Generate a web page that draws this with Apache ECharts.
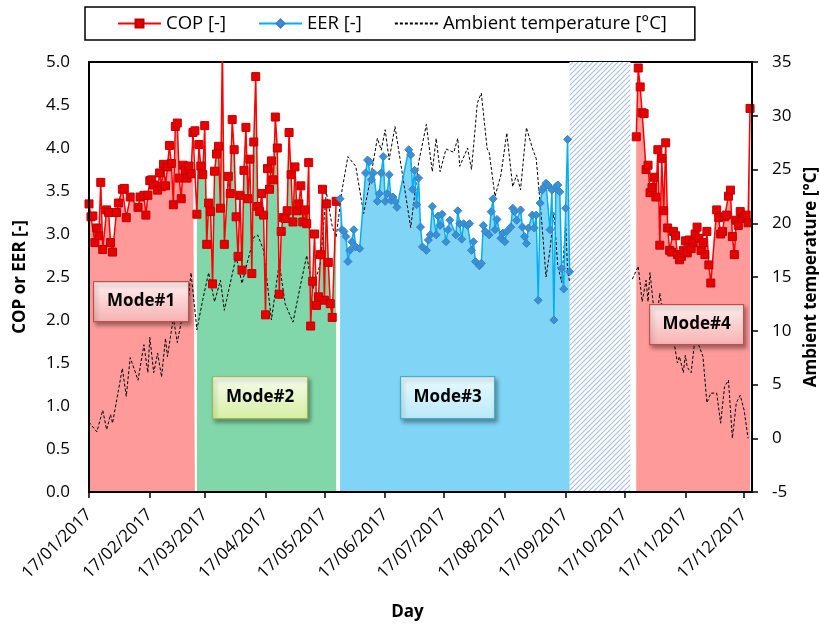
<!DOCTYPE html>
<html>
<head>
<meta charset="utf-8">
<script src="https://cdn.jsdelivr.net/npm/echarts@6/dist/echarts.min.js"></script>
<style>
html, body { margin: 0; padding: 0; background: #fff; }
#chart { width: 819px; height: 625px; }
</style>
</head>
<body>
<div id="chart"></div>
<script>
// x values below are day numbers: day 0 = 17/01/2017, day 338 = 21/12/2017
const startDay = Date.UTC(2017, 0, 17);
const dayCount = 339;
const days = [];
for (let i = 0; i < dayCount; i++) {
    const d = new Date(startDay + i * 86400000);
    days.push(String(d.getUTCDate()).padStart(2, '0') + '/' + String(d.getUTCMonth() + 1).padStart(2, '0') + '/' + d.getUTCFullYear());
}

const legendNames = ['COP [-]', 'EER [-]', 'Ambient temperature [°C]'];
const modeNames = ['Mode#1', 'Mode#2', 'Mode#3', 'Mode#4'];
const hatchFrom = '19/09/2017';
const hatchTo = '20/10/2017';

// heating, mode 1
const copMode1 = [
    [0, 3.35], [1, 3.20], [2, 3.21], [3, 2.90], [4, 3.07], [5, 2.98], [6, 3.60], [7, 2.82], [9, 3.28], [10, 3.25],
    [11, 2.90], [12, 2.79], [14, 3.25], [15, 3.36], [17, 3.52], [18, 3.53], [19, 3.19], [21, 3.43], [25, 3.31], [26, 3.43],
    [28, 3.45], [29, 3.22], [30, 3.45], [31, 3.62], [32, 3.63], [33, 3.57], [35, 3.51], [36, 3.71], [37, 3.55], [38, 3.81],
    [39, 3.56], [40, 3.78], [41, 4.03], [42, 3.82], [43, 3.34], [44, 4.25], [45, 4.29], [46, 3.65], [47, 3.41], [48, 3.80],
    [49, 3.74], [50, 3.65], [51, 3.79], [52, 3.70], [53, 4.18], [54, 4.20]
];
// heating, mode 2
const copMode2 = [
    [55, 3.23], [56, 4.04], [57, 3.79], [58, 3.69], [59, 4.26], [60, 2.88], [61, 3.36], [62, 3.26], [63, 2.42], [64, 3.73],
    [65, 3.93], [66, 4.02], [67, 3.30], [68, 5.20], [69, 2.88], [71, 3.67], [72, 3.47], [73, 4.33], [74, 3.98], [75, 3.20],
    [76, 2.74], [77, 3.45], [78, 2.58], [79, 3.74], [80, 4.24], [81, 3.41], [82, 3.87], [83, 2.54], [84, 4.07], [85, 4.83],
    [86, 3.32], [87, 3.26], [88, 3.47], [89, 3.22], [90, 2.06], [91, 3.76], [92, 3.52], [93, 3.85], [94, 3.63], [95, 4.36],
    [96, 4.00], [97, 2.30], [98, 3.03], [99, 3.19], [100, 3.18], [101, 3.27], [102, 4.18], [103, 3.69], [104, 3.14], [105, 3.78],
    [106, 3.27], [107, 3.35], [108, 3.56], [109, 3.14], [110, 3.28], [111, 3.12], [112, 3.83], [113, 1.93], [114, 2.45], [115, 3.00],
    [116, 2.17], [117, 2.27], [118, 2.76], [119, 3.52], [120, 2.23], [121, 3.35], [122, 2.67], [123, 2.19], [124, 2.03], [126, 3.38]
];
// cooling, mode 3
const eerMode3 = [
    [128, 3.41], [129, 3.05], [130, 3.03], [131, 2.97], [132, 2.68], [133, 2.81], [134, 2.91], [135, 3.05], [136, 2.85], [138, 2.83],
    [141, 3.71], [142, 3.86], [143, 3.84], [144, 3.63], [145, 3.71], [147, 3.38], [148, 3.47], [149, 3.71], [150, 3.90], [151, 3.38],
    [152, 3.47], [153, 3.69], [154, 3.39], [155, 3.43], [156, 3.38], [157, 3.31], [163, 3.98], [164, 3.92], [165, 3.52], [166, 3.74],
    [167, 3.34], [168, 3.65], [169, 3.08], [170, 2.85], [172, 2.81], [173, 2.93], [174, 2.99], [175, 3.32], [177, 2.99], [178, 3.21],
    [179, 3.10], [180, 3.23], [182, 2.91], [183, 3.05], [184, 3.16], [187, 2.99], [188, 3.27], [189, 3.12], [190, 2.94], [191, 3.12],
    [193, 3.10], [194, 3.12], [195, 2.81], [196, 2.91], [197, 2.68], [199, 2.63], [200, 2.66], [201, 3.10], [202, 3.03], [204, 2.99],
    [205, 3.26], [206, 3.41], [207, 3.05], [208, 3.17], [210, 2.95], [211, 3.01], [212, 2.91], [213, 3.03], [215, 3.08], [216, 3.30],
    [217, 3.26], [218, 3.16], [220, 3.28], [221, 3.08], [222, 2.97], [223, 2.89], [224, 3.07], [226, 3.22], [227, 3.07], [228, 3.22],
    [229, 2.23], [230, 3.36], [231, 3.51], [232, 3.55], [233, 3.59], [234, 3.57], [235, 3.05], [236, 3.51], [237, 2.00], [238, 3.55],
    [239, 3.57], [240, 3.49], [241, 2.60], [242, 2.36], [243, 3.30], [244, 4.10], [245, 2.56]
];
// heating, mode 4
const copMode4 = [
    [279, 4.13], [280, 4.93], [281, 4.71], [282, 4.41], [283, 4.40], [284, 3.75], [285, 3.80], [286, 3.48], [287, 3.54], [288, 3.66],
    [289, 3.43], [290, 3.98], [291, 2.87], [292, 3.88], [293, 3.27], [294, 4.06], [295, 3.07], [296, 2.81], [297, 2.79], [298, 3.03],
    [299, 2.98], [300, 2.76], [301, 2.70], [302, 2.74], [303, 2.81], [304, 2.92], [305, 2.78], [306, 2.93], [307, 2.83], [308, 2.90],
    [309, 3.00], [310, 3.08], [311, 2.95], [312, 2.81], [313, 2.90], [314, 2.76], [315, 3.03], [316, 2.64], [317, 2.43], [320, 3.28],
    [321, 3.19], [322, 3.00], [323, 3.03], [324, 3.20], [325, 3.22], [326, 3.44], [327, 3.51], [328, 2.97], [329, 2.76], [330, 3.16],
    [331, 3.10], [332, 3.26], [333, 3.18], [334, 3.20], [335, 3.22], [336, 3.13], [337, 4.46]
];
// ambient temperature, no record during the hatched period
const ambientTemp = [
    [0, 1.5], [4, 0.6], [7, 2.6], [9, 0.8], [11, 2.2], [12, 1.4], [17, 6.5], [19, 3.9], [21, 7.5], [25, 5.4],
    [28, 8.7], [30, 6.1], [31, 9.4], [33, 6.1], [35, 7.9], [37, 5.7], [39, 9.3], [40, 7.6], [43, 11.2], [45, 8.9],
    [47, 10.8], [50, 11.6], [52, 15.4], [55, 10.1], [58, 12.9], [61, 15.4], [64, 12.7], [67, 14.7], [69, 11.9], [75, 16.9],
    [78, 14.4], [84, 18.7], [86, 18.9], [89, 17.5], [93, 11.0], [97, 16.3], [100, 12.5], [104, 10.8], [108, 14.4], [111, 17.0],
    [114, 13.8], [118, 16.3], [121, 22.9], [124, 19.7], [126, 18.7], [129, 23.1], [132, 26.2], [136, 25.3], [140, 20.9], [143, 23.7],
    [147, 27.9], [149, 26.8], [151, 28.7], [153, 25.9], [156, 29.0], [160, 24.3], [164, 19.6], [168, 25.6], [172, 29.2], [175, 24.8],
    [177, 27.9], [179, 24.8], [182, 26.9], [186, 26.6], [188, 27.9], [189, 25.3], [193, 27.0], [195, 25.0], [198, 31.2], [200, 32.1],
    [203, 26.9], [204, 26.6], [207, 22.5], [210, 24.5], [213, 28.4], [216, 23.4], [218, 24.5], [220, 23.1], [223, 28.9], [226, 27.0],
    [228, 26.0], [231, 19.7], [233, 15.0], [235, 17.5], [237, 21.0], [239, 16.0], [241, 14.5], [243, 20.0], [244, 15.5], [245, 14.6],
    [260, '-'],
    [277, 14.8], [280, 16.0], [282, 12.7], [284, 14.7], [285, 12.7], [286, 15.4], [288, 11.9], [289, 10.4], [291, 13.5], [293, 11.0],
    [295, 9.2], [298, 9.2], [300, 7.0], [301, 7.6], [303, 6.1], [304, 7.7], [305, 6.6], [307, 6.1], [309, 9.4], [310, 9.1],
    [313, 7.6], [315, 3.3], [317, 4.2], [320, 4.2], [322, 1.4], [324, 4.8], [326, 5.4], [328, 0.0], [330, 3.3], [332, 4.0],
    [334, 2.6], [336, 0.0]
];

const FONT = '"Open Sans", sans-serif';

// hatch pattern for the period without data
const hatch = document.createElement('canvas');
hatch.width = 5;
hatch.height = 5;
const hc = hatch.getContext('2d');
hc.fillStyle = '#ffffff';
hc.fillRect(0, 0, 5, 5);
hc.strokeStyle = '#a6bee3';
hc.lineWidth = 1.1;
hc.beginPath();
hc.moveTo(0, 5); hc.lineTo(5, 0);
hc.moveTo(-1, 1); hc.lineTo(1, -1);
hc.moveTo(4, 6); hc.lineTo(6, 4);
hc.stroke();

const isMonthTick = (idx, val) => val.slice(0, 2) === '17';

const areaSeries = (data, color, extra) => ({
    type: 'line',
    data,
    yAxisIndex: 0,
    symbol: 'none',
    silent: true,
    z: 1,
    lineStyle: { width: 0 },
    areaStyle: { color, opacity: 1 },
    ...extra,
});

const modeBox = (text, x, y, w, h, c1, c2, border) => ({
    type: 'group',
    left: x,
    top: y,
    children: [
        {
            type: 'rect',
            z: 100,
            shape: { width: w, height: h },
            style: {
                fill: new echarts.graphic.LinearGradient(0, 0, 0, 1, [
                    { offset: 0, color: c1 },
                    { offset: 1, color: c2 },
                ]),
                stroke: border,
                lineWidth: 1.2,
                shadowBlur: 4,
                shadowOffsetX: 2,
                shadowOffsetY: 3,
                shadowColor: 'rgba(0,0,0,0.35)',
            },
        },
        {
            type: 'text',
            z: 101,
            style: {
                text,
                x: w / 2,
                y: h / 2,
                align: 'center',
                verticalAlign: 'middle',
                font: 'bold 17px ' + FONT,
                fill: '#000',
            },
        },
    ],
});

const chart = echarts.init(document.getElementById('chart'), null, { renderer: 'canvas' });

chart.setOption({
    animation: false,
    textStyle: { fontFamily: FONT },
    grid: {
        left: 89, right: 67, top: 62, bottom: 133,
        outerBoundsMode: 'none',
        containLabel: false,
        show: true,
        borderColor: '#000',
        borderWidth: 2,
        backgroundColor: 'transparent',
    },
    legend: {
        data: [
            { name: legendNames[0] },
            { name: legendNames[1] },
            { name: legendNames[2], itemStyle: { opacity: 0 } },
        ],
        left: 85,
        top: 7,
        padding: [7, 28, 7, 32],
        itemGap: 32,
        itemWidth: 43,
        itemHeight: 10,
        borderColor: '#000',
        borderWidth: 1.5,
        textStyle: { fontFamily: FONT, fontSize: 18.5, color: '#000' },
    },
    xAxis: {
        type: 'category',
        data: days,
        boundaryGap: false,
        z: 5,
        axisLine: { lineStyle: { color: '#000', width: 2 } },
        axisTick: { interval: isMonthTick, length: 6, lineStyle: { color: '#000', width: 1.5 } },
        axisLabel: { interval: isMonthTick, rotate: 45, margin: 20, fontSize: 17, color: '#000', fontFamily: FONT },
        splitLine: { show: false },
        name: 'Day',
        nameLocation: 'middle',
        nameGap: 112,
        nameTextStyle: { fontWeight: 'bold', fontSize: 17, color: '#000', fontFamily: FONT, padding: [0, 26, 0, 0] },
    },
    yAxis: [
        {
            type: 'value',
            min: 0, max: 5, interval: 0.5,
            position: 'left',
            z: 5,
            axisLine: { show: true, lineStyle: { color: '#000', width: 2 } },
            axisTick: { show: false },
            axisLabel: { formatter: v => v.toFixed(1), margin: 19, fontSize: 17, color: '#000', fontFamily: FONT },
            splitLine: { show: false },
            name: 'COP or EER [-]',
            nameLocation: 'middle',
            nameRotate: 90,
            nameGap: 60,
            nameTextStyle: { fontWeight: 'bold', fontSize: 17, color: '#000', fontFamily: FONT },
        },
        {
            type: 'value',
            min: -5, max: 35, interval: 5,
            position: 'right',
            z: 5,
            axisLine: { show: true, lineStyle: { color: '#000', width: 2 } },
            axisTick: { show: true, length: 6, lineStyle: { color: '#000', width: 1.5 } },
            axisLabel: { margin: 20, fontSize: 17, color: '#000', fontFamily: FONT },
            splitLine: { show: false },
            name: 'Ambient temperature [°C]',
            nameLocation: 'middle',
            nameRotate: 90,
            nameGap: 48,
            nameTextStyle: { fontWeight: 'bold', fontSize: 17, color: '#000', fontFamily: FONT },
        },
    ],
    series: [
        areaSeries(copMode1, '#fe9a9a'),
        areaSeries(copMode2, '#82d7aa'),
        areaSeries(eerMode3, '#80d4f6', {
            markArea: {
                silent: true,
                itemStyle: { color: { image: hatch, repeat: 'repeat' } },
                data: [[{ xAxis: hatchFrom }, { xAxis: hatchTo }]],
            },
        }),
        areaSeries(copMode4, '#fe9a9a'),
        {
            name: legendNames[2],
            type: 'line',
            yAxisIndex: 1,
            data: ambientTemp,
            symbol: 'none',
            z: 3,
            color: '#000',
            lineStyle: { color: '#000', width: 1, type: [3, 2] },
        },
        {
            name: legendNames[0],
            type: 'line',
            yAxisIndex: 0,
            data: copMode1.concat(copMode2, [[200, '-']], copMode4),
            symbol: 'rect',
            symbolSize: 8,
            showAllSymbol: true,
            z: 4,
            color: '#e60000',
            lineStyle: { color: '#ff0000', width: 1.5 },
            itemStyle: { color: '#e60000', borderColor: '#c00000', borderWidth: 1 },
        },
        {
            name: legendNames[1],
            type: 'line',
            yAxisIndex: 0,
            data: eerMode3,
            symbol: 'diamond',
            symbolSize: 8,
            showAllSymbol: true,
            z: 4,
            color: '#3592d9',
            lineStyle: { color: '#00b0f0', width: 1.5 },
            itemStyle: { color: '#3592d9', borderColor: '#3f7fc0', borderWidth: 1 },
        },
    ],
    graphic: [
        modeBox(modeNames[0], 93, 281, 95, 40, '#fff0f0', '#f7b1b1', '#c0504d'),
        modeBox(modeNames[1], 212, 376, 95, 42, '#f6fcec', '#d6efa4', '#9bbb59'),
        modeBox(modeNames[2], 400, 376, 94, 42, '#eafaff', '#b8eaf8', '#4bacc6'),
        modeBox(modeNames[3], 649, 304, 94, 40, '#fff0f0', '#f7b1b1', '#c0504d'),
    ],
});
</script>
</body>
</html>
